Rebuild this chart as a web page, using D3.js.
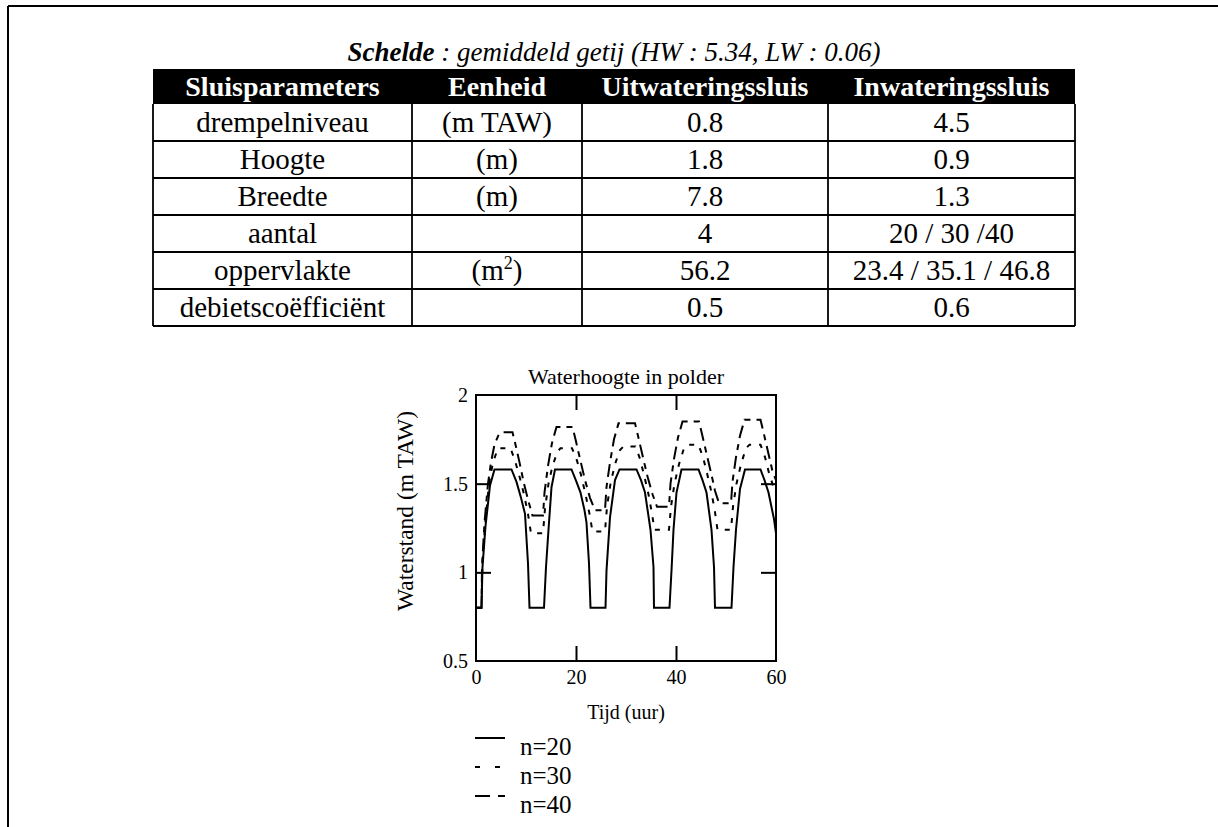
<!DOCTYPE html>
<html>
<head>
<meta charset="utf-8">
<script src="https://cdn.jsdelivr.net/npm/d3@7"></script>
<style>
  body { margin: 0; background: #fff; }
  svg text { font-family: "Liberation Serif", "Times New Roman", serif; fill: #000; }
</style>
</head>
<body>
<svg id="page" width="1218" height="827"></svg>
<script>
// ---- table content ----
const titleBold = "Schelde";
const titleRest = " : gemiddeld getij (HW : 5.34, LW : 0.06)";
const tableHeaders = ["Sluisparameters", "Eenheid", "Uitwateringssluis", "Inwateringssluis"];
const paramNames = ["drempelniveau", "Hoogte", "Breedte", "aantal", "oppervlakte", "debietscoëfficiënt"];
const paramUnits = ["(m TAW)", "(m)", "(m)", "", "(m²)", ""];
const outletValues = ["0.8", "1.8", "7.8", "4", "56.2", "0.5"];
const inletValues = ["4.5", "0.9", "1.3", "20 / 30 /40", "23.4 / 35.1 / 46.8", "0.6"];

// ---- chart content ----
const chartTitle = "Waterhoogte in polder";
const xTitle = "Tijd (uur)";
const yTitle = "Waterstand (m TAW)";
const xTicks = [0, 20, 40, 60];
const yTicks = [0.5, 1, 1.5, 2];
const seriesNames = ["n=20", "n=30", "n=40"];

// polder water level (m TAW) against time (h)
const timeN20 = [0,1.1,1.3,1.9,2.8,3.7,7.1,8.1,9.0,9.8,10.4,10.7,
  13.6,14.0,14.5,15.1,15.8,19.1,20.1,20.9,21.7,22.1,22.6,22.9,
  25.9,26.1,26.8,27.8,28.7,32.1,33.0,33.8,34.9,35.5,35.6,
  38.7,39.1,39.5,40.1,41.1,44.5,45.3,46.1,47.1,47.6,47.8,
  51.1,51.5,52.0,52.8,53.8,56.9,57.7,58.5,59.6,60];
const levelN20 = [0.8,0.8,1.03,1.26,1.49,1.58,1.58,1.51,1.42,1.33,1.05,0.8,
  0.8,1.03,1.24,1.48,1.58,1.58,1.51,1.45,1.35,1.28,1.05,0.8,
  0.8,1.01,1.31,1.52,1.58,1.58,1.52,1.45,1.24,1.03,0.8,
  0.8,1.01,1.24,1.45,1.58,1.58,1.52,1.45,1.24,1.03,0.8,
  0.8,1.03,1.24,1.47,1.58,1.58,1.52,1.45,1.30,1.22];

const timeN30 = [0,1.1,1.25,1.8,2.6,3.4,4.4,6.9,7.8,8.7,9.6,10.4,11.0,13.4,
  13.8,14.5,15.3,16.3,16.9,19.2,20.2,21.0,21.9,22.7,23.3,25.8,
  26.2,26.9,27.8,28.8,29.5,31.9,32.8,33.6,34.5,35.2,35.7,38.6,
  39.0,39.7,40.6,41.6,42.3,44.5,45.4,46.2,47.1,47.8,48.3,51.0,
  51.4,52.1,53.0,54.0,54.7,56.9,57.8,58.6,59.4,60];
const levelN30 = [0.8,0.8,1.03,1.26,1.5,1.62,1.70,1.70,1.63,1.54,1.44,1.33,1.22,1.22,
  1.36,1.5,1.6,1.68,1.70,1.70,1.63,1.55,1.44,1.33,1.23,1.23,
  1.37,1.5,1.61,1.69,1.71,1.71,1.64,1.55,1.44,1.33,1.24,1.24,
  1.37,1.5,1.61,1.70,1.72,1.72,1.65,1.56,1.45,1.34,1.24,1.24,
  1.37,1.5,1.61,1.70,1.72,1.72,1.65,1.56,1.49,1.45];

const timeN40 = [0,1.1,1.2,1.7,2.4,3.0,3.7,4.6,5.3,7.3,7.9,8.7,9.6,10.5,11.3,13.4,
  13.7,14.4,15.2,16.1,19.3,19.9,20.8,21.8,22.8,23.8,25.8,
  26.1,26.8,27.6,28.5,31.8,32.4,33.3,34.3,35.3,36.2,38.6,
  38.9,39.6,40.4,41.3,44.6,45.2,46.1,47.1,47.8,48.6,51.0,
  51.3,52.0,52.8,53.7,56.9,57.5,58.4,59.3,60];
const levelN40 = [0.8,0.8,1.03,1.28,1.5,1.62,1.72,1.78,1.79,1.79,1.72,1.62,1.5,1.40,1.32,1.32,
  1.45,1.6,1.73,1.82,1.82,1.75,1.64,1.52,1.42,1.35,1.35,
  1.48,1.62,1.75,1.84,1.84,1.77,1.66,1.54,1.44,1.37,1.37,
  1.5,1.64,1.76,1.85,1.85,1.78,1.67,1.55,1.46,1.39,1.39,
  1.51,1.65,1.77,1.86,1.86,1.79,1.68,1.57,1.52];

// ---- layout ----
const svg = d3.select("#page");
const seriesDash = ["none", "5,8", "13,6,6,6"];
const legendDash = ["none", "5,15", "15,8,7"];

// page frame (top and left rules)
svg.append("line").attr("x1", 8).attr("y1", 6).attr("x2", 1218).attr("y2", 6)
  .attr("stroke", "#000").attr("stroke-width", 2);
svg.append("line").attr("x1", 8).attr("y1", 6).attr("x2", 8).attr("y2", 827)
  .attr("stroke", "#000").attr("stroke-width", 2);

// ---- table ----
const colEdges = [153, 412, 582, 828, 1075];
const tableTop = 69, headerH = 35, rowH = 37;
const rows = d3.range(paramNames.length).map(i =>
  [paramNames[i], paramUnits[i], outletValues[i], inletValues[i]]);
const rowY = d3.scaleBand().domain(d3.range(rows.length))
  .range([tableTop + headerH, tableTop + headerH + rowH * rows.length]);
const colMid = i => (colEdges[i] + colEdges[i + 1]) / 2;
const tableBottom = tableTop + headerH + rowH * rows.length;

const title = svg.append("text").attr("x", (colEdges[0] + colEdges[4]) / 2).attr("y", 61)
  .attr("text-anchor", "middle").attr("font-size", 27).attr("font-style", "italic");
title.append("tspan").attr("font-weight", "bold").text(titleBold);
title.append("tspan").text(titleRest);

svg.append("rect").attr("x", colEdges[0]).attr("y", tableTop)
  .attr("width", colEdges[4] - colEdges[0]).attr("height", headerH).attr("fill", "#000");
svg.selectAll("text.hdr").data(tableHeaders).join("text").attr("class", "hdr")
  .attr("x", (d, i) => colMid(i)).attr("y", tableTop + headerH / 2 + 9.5)
  .attr("text-anchor", "middle").attr("font-size", 28).attr("font-weight", "bold")
  .style("fill", "#fff").text(d => d);

const grid = svg.append("g").attr("stroke", "#000").attr("stroke-width", 1.8);
rows.forEach((r, i) => {
  grid.append("line").attr("x1", colEdges[0]).attr("x2", colEdges[4])
    .attr("y1", rowY(i) + rowH).attr("y2", rowY(i) + rowH);
});
colEdges.forEach(cx => {
  grid.append("line").attr("x1", cx).attr("x2", cx)
    .attr("y1", tableTop + headerH).attr("y2", tableBottom);
});

rows.forEach((r, i) => {
  r.forEach((cell, j) => {
    const t = svg.append("text").attr("x", colMid(j)).attr("y", rowY(i) + rowH / 2 + 9.5)
      .attr("text-anchor", "middle").attr("font-size", 29);
    if (cell.endsWith("²)")) {
      t.append("tspan").text(cell.slice(0, -2));
      t.append("tspan").attr("font-size", 18).attr("dy", -11).text("2");
      t.append("tspan").attr("dy", 11).text(")");
    } else {
      t.text(cell);
    }
  });
});

// ---- chart ----
const plot = { left: 476, right: 776, top: 395, bottom: 661 };
const x = d3.scaleLinear().domain([0, 60]).range([plot.left, plot.right]);
const y = d3.scaleLinear().domain([0.5, 2]).range([plot.bottom, plot.top]);
const chart = svg.append("g");

const series = [
  d3.zip(timeN20, levelN20),
  d3.zip(timeN30, levelN30),
  d3.zip(timeN40, levelN40)
];
const line = d3.line().x(d => x(d[0])).y(d => y(d[1]));
chart.append("defs").append("clipPath").attr("id", "plotClip").append("rect")
  .attr("x", plot.left).attr("y", plot.top)
  .attr("width", plot.right - plot.left).attr("height", plot.bottom - plot.top);
chart.append("g").attr("clip-path", "url(#plotClip)")
  .selectAll("path").data(series).join("path")
  .attr("d", line).attr("fill", "none").attr("stroke", "#000")
  .attr("stroke-width", 2).attr("stroke-dasharray", (d, i) => seriesDash[i]);

// frame with inward ticks on all four sides
const innerX = xTicks.slice(1, -1), innerY = yTicks.slice(1, -1);
const tickStyle = g => {
  g.select(".domain").remove();
  g.selectAll(".tick line").attr("stroke", "#000").attr("stroke-width", 2);
  g.selectAll(".tick text").remove();
};
chart.append("g").attr("transform", `translate(0,${plot.bottom})`)
  .call(d3.axisBottom(x).tickValues(innerX).tickSize(-15)).call(tickStyle);
chart.append("g").attr("transform", `translate(0,${plot.top})`)
  .call(d3.axisTop(x).tickValues(innerX).tickSize(-15)).call(tickStyle);
chart.append("g").attr("transform", `translate(${plot.left},0)`)
  .call(d3.axisLeft(y).tickValues(innerY).tickSize(-15)).call(tickStyle);
chart.append("g").attr("transform", `translate(${plot.right},0)`)
  .call(d3.axisRight(y).tickValues(innerY).tickSize(-15)).call(tickStyle);
chart.append("rect").attr("x", plot.left).attr("y", plot.top)
  .attr("width", plot.right - plot.left).attr("height", plot.bottom - plot.top)
  .attr("fill", "none").attr("stroke", "#000").attr("stroke-width", 2);

// tick labels
const labelStyle = g => {
  g.select(".domain").remove();
  g.selectAll(".tick line").remove();
  g.selectAll(".tick text").attr("font-size", 20)
    .attr("font-family", "Liberation Serif, serif").style("fill", "#000");
};
chart.append("g").attr("transform", `translate(0,${plot.bottom})`)
  .call(d3.axisBottom(x).tickValues(xTicks).tickSize(0).tickPadding(9)
    .tickFormat(d3.format("d"))).call(labelStyle);
chart.append("g").attr("transform", `translate(${plot.left},0)`)
  .call(d3.axisLeft(y).tickValues(yTicks).tickSize(0).tickPadding(8)
    .tickFormat(d => String(d))).call(labelStyle);

// titles
chart.append("text").attr("x", (plot.left + plot.right) / 2).attr("y", 384)
  .attr("text-anchor", "middle").attr("font-size", 22).text(chartTitle);
chart.append("text").attr("x", (plot.left + plot.right) / 2).attr("y", 719)
  .attr("text-anchor", "middle").attr("font-size", 20).text(xTitle);
chart.append("text").attr("transform", "translate(413,511) rotate(-90)")
  .attr("text-anchor", "middle").attr("font-size", 23.5).text(yTitle);

// legend
const legendY = d3.scalePoint().domain(seriesNames).range([755, 813]);
const legend = chart.append("g");
seriesNames.forEach((name, i) => {
  legend.append("line").attr("x1", 475).attr("x2", 505)
    .attr("y1", legendY(name) - 17).attr("y2", legendY(name) - 17)
    .attr("stroke", "#000").attr("stroke-width", 2).attr("stroke-dasharray", legendDash[i]);
  legend.append("text").attr("x", 520).attr("y", legendY(name))
    .attr("font-size", 25).text(name);
});
</script>
</body>
</html>
